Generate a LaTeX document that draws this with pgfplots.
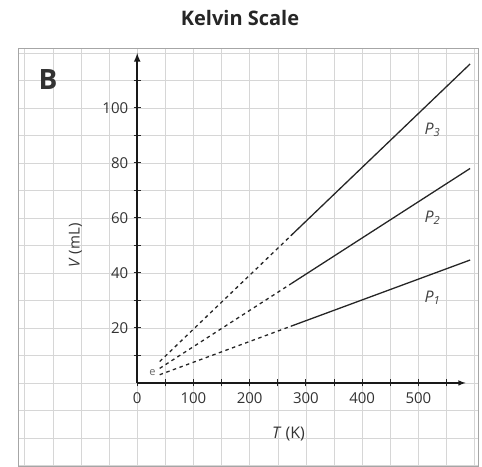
\documentclass[border=0pt]{standalone}
\usepackage{pgfplots}
\pgfplotsset{compat=1.18}
\usepackage{fontspec}
\setmainfont{Open Sans}
\begin{document}
\begin{tikzpicture}[x=1pt,y=1pt]
\path[use as bounding box] (-18,0) rectangle (464,466);
% background graph paper
\begin{axis}[name=bg, at={(0,0)}, anchor=south west,
  scale only axis, width=460pt, height=418pt,
  xmin=-212, xmax=606, ymin=-30.2, ymax=121.8,
  xtick={-200,-150,...,600}, ytick={-30,-20,...,120},
  xticklabels={}, yticklabels={}, major tick length=0pt,
  grid=major, grid style={black!16, line width=0.6pt},
  axis line style={black!35, line width=0.8pt}]
\coordinate (O) at (axis cs:0,0);
\end{axis}
\node[font=\bfseries\fontsize{20}{22}\selectfont, text=black!85] at (222,448) {Kelvin Scale};
\node[font=\bfseries\fontsize{28}{30}\selectfont, text=black!80] at (30,386) {B};
\begin{axis}[at={(O)}, anchor=south west,
  scale only axis, width=328.4pt, height=330pt,
  xmin=0, xmax=584, ymin=0, ymax=120, clip=false,
  axis x line=bottom, axis y line=left,
  axis line style={black!90, line width=1.5pt, -latex},
  every outer y axis line/.append style={black!90, line width=2pt},
  xtick={0,100,...,500}, minor xtick={50,150,...,550},
  ytick={20,40,...,100}, minor ytick={10,30,...,110},
  tick align=center, major tick length=7pt, minor tick length=7pt,
  tick style={black!85, line width=1pt},
  /pgf/number format/assume math mode=true,
  ticklabel style={font=\fontsize{15}{17}\selectfont, text=black!80},
  xticklabel style={yshift=-3pt}, yticklabel style={xshift=-2pt}]
\addplot[black!85, line width=1.3pt, dash pattern=on 3.5pt off 3.5pt] coordinates {(40,7.8) (273,53.5)};
\addplot[black!85, line width=1.3pt] coordinates {(273,53.5) (592,116)};
\addplot[black!85, line width=1.3pt, dash pattern=on 3.5pt off 3.5pt] coordinates {(40,5.3) (273,36)};
\addplot[black!85, line width=1.3pt] coordinates {(273,36) (592,78)};
\addplot[black!85, line width=1.3pt, dash pattern=on 3.5pt off 3.5pt] coordinates {(40,3.0) (273,20.6)};
\addplot[black!85, line width=1.3pt] coordinates {(273,20.6) (592,44.7)};
\node[font=\itshape\fontsize{16}{18}\selectfont, text=black!75] at (axis cs:525,92) {P\textsubscript{3}};
\node[font=\itshape\fontsize{16}{18}\selectfont, text=black!75] at (axis cs:525,60) {P\textsubscript{2}};
\node[font=\itshape\fontsize{16}{18}\selectfont, text=black!75] at (axis cs:525,31) {P\textsubscript{1}};
\node[font=\fontsize{11}{12}\selectfont, text=black!60] at (axis cs:27,3.6) {e};
\node[font=\fontsize{16}{18}\selectfont, text=black!80] at (axis cs:269,-18.5) {\textit{T} (K)};
\node[font=\fontsize{15}{17}\selectfont, text=black!80, rotate=90] at (axis cs:-110,50) {\textit{V} (mL)};
\end{axis}
\end{tikzpicture}
\end{document}
